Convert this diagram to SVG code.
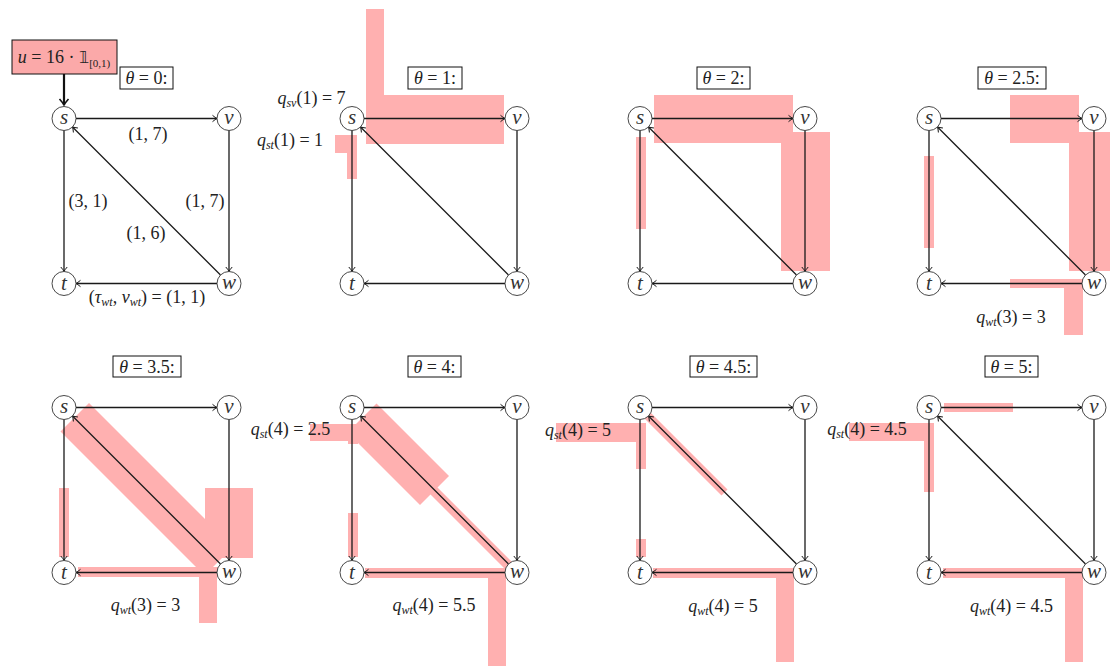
<svg xmlns="http://www.w3.org/2000/svg" width="1110" height="666" viewBox="0 0 1110 666" font-family="'Liberation Serif', 'DejaVu Serif', serif">
<defs>
<style>
.hl{fill:#ffb0b0;stroke:none}
.edge{fill:none;stroke:#1a1a1a;stroke-width:1.3;marker-end:url(#arr)}
.node circle{fill:#fff;stroke:#333;stroke-width:0.9}
.node text{font-family:'Liberation Serif','DejaVu Serif',serif;font-style:italic;font-size:21px;fill:#333;text-anchor:middle}
.lbl{font-family:'Liberation Serif','DejaVu Serif',serif;font-size:18px;fill:#222;text-anchor:middle}
.it{font-style:italic}
.box{fill:#fff;stroke:#111;stroke-width:1}
</style>
<marker id="arr" viewBox="-6 -5 8 10" refX="0" refY="0" markerWidth="8" markerHeight="10" markerUnits="userSpaceOnUse" orient="auto">
<path d="M-4.5,-3.2 Q-1.6,-0.7 0,0 Q-1.6,0.7 -4.5,3.2" fill="none" stroke="#1a1a1a" stroke-width="1"/>
</marker>
<marker id="arrBig" viewBox="-8 -6 10 12" refX="0" refY="0" markerWidth="10" markerHeight="12" markerUnits="userSpaceOnUse" orient="auto">
<path d="M-6,-4.5 Q-2,-1 0,0 Q-2,1 -6,4.5" fill="none" stroke="#111" stroke-width="1.6"/>
</marker>
</defs>
<rect width="1110" height="666" fill="#fff"/>

<!-- highlights -->
<g id="highlights">
<polygon class="hl" points="366,9 384,9 384,95 504,95 504,144 366,144"/>
<polygon class="hl" points="335,135 357,135 357,179 347,179 347,153 335,153"/>
<rect class="hl" x="654" y="95" width="139" height="48"/>
<rect class="hl" x="781" y="132" width="49" height="139"/>
<rect class="hl" x="636" y="137" width="10" height="92"/>
<rect class="hl" x="1010" y="95" width="69" height="48"/>
<rect class="hl" x="1069" y="132" width="41" height="139"/>
<rect class="hl" x="924" y="156" width="10" height="92"/>
<polygon class="hl" points="1010,279 1083,279 1083,335 1064,335 1064,288 1010,288"/>
<polygon class="hl" points="89,403 233,547 204.5,575.5 60.5,431.5"/>
<rect class="hl" x="205" y="488" width="48" height="70"/>
<rect class="hl" x="59" y="488" width="10" height="69"/>
<rect class="hl" x="78" y="567" width="140" height="10"/>
<rect class="hl" x="199" y="567" width="18" height="56"/>
<rect class="hl" x="310" y="424" width="48" height="17"/>
<rect class="hl" x="348" y="424" width="10" height="20"/>
<polygon class="hl" points="376.5,403.5 449,476 420,505 347.5,432.5"/>
<polygon class="hl" points="425,475 520,570 513,577 418,482"/>
<rect class="hl" x="348" y="513" width="10" height="44"/>
<rect class="hl" x="365" y="568" width="142" height="10"/>
<rect class="hl" x="488" y="568" width="18" height="98"/>
<rect class="hl" x="556" y="423" width="90" height="19"/>
<rect class="hl" x="636" y="423" width="10" height="46"/>
<polygon class="hl" points="649,411 727.5,489.5 721.5,495.5 643,417"/>
<rect class="hl" x="636" y="539" width="10" height="18"/>
<rect class="hl" x="653" y="568" width="140" height="10"/>
<rect class="hl" x="776" y="568" width="18" height="94"/>
<rect class="hl" x="944" y="403" width="69" height="9"/>
<rect class="hl" x="849" y="423" width="85" height="18"/>
<rect class="hl" x="924" y="423" width="10" height="69"/>
<rect class="hl" x="943" y="568" width="139" height="10"/>
<rect class="hl" x="1065" y="568" width="18" height="94"/>
</g>

<!-- input box -->
<g id="input">
<rect x="12" y="40" width="105" height="34" fill="#fba9a9" stroke="#111" stroke-width="1"/>
<text class="lbl" x="64" y="63" font-size="18"><tspan class="it">u</tspan> = 16 · <tspan font-family="'DejaVu Sans', sans-serif" font-size="16">𝟙</tspan><tspan font-size="11" dy="4">[0,1)</tspan></text>
</g>

<!-- connectors -->
<g id="connectors">
<path d="M64,74 V105" fill="none" stroke="#111" stroke-width="2.2" marker-end="url(#arrBig)"/>
<g transform="translate(64,118.5)"><path class="edge" d="M12,0 H153"/><path class="edge" d="M165,12 V153"/><path class="edge" d="M0,12 V153"/><path class="edge" d="M153,165 H12"/><path class="edge" d="M156.5,156.5 L8.5,8.5"/></g>
<g transform="translate(352,118.5)"><path class="edge" d="M12,0 H153"/><path class="edge" d="M165,12 V153"/><path class="edge" d="M0,12 V153"/><path class="edge" d="M153,165 H12"/><path class="edge" d="M156.5,156.5 L8.5,8.5"/></g>
<g transform="translate(640,118.5)"><path class="edge" d="M12,0 H153"/><path class="edge" d="M165,12 V153"/><path class="edge" d="M0,12 V153"/><path class="edge" d="M153,165 H12"/><path class="edge" d="M156.5,156.5 L8.5,8.5"/></g>
<g transform="translate(929,118.5)"><path class="edge" d="M12,0 H153"/><path class="edge" d="M165,12 V153"/><path class="edge" d="M0,12 V153"/><path class="edge" d="M153,165 H12"/><path class="edge" d="M156.5,156.5 L8.5,8.5"/></g>
<g transform="translate(64,407.5)"><path class="edge" d="M12,0 H153"/><path class="edge" d="M165,12 V153"/><path class="edge" d="M0,12 V153"/><path class="edge" d="M153,165 H12"/><path class="edge" d="M156.5,156.5 L8.5,8.5"/></g>
<g transform="translate(352,407.5)"><path class="edge" d="M12,0 H153"/><path class="edge" d="M165,12 V153"/><path class="edge" d="M0,12 V153"/><path class="edge" d="M153,165 H12"/><path class="edge" d="M156.5,156.5 L8.5,8.5"/></g>
<g transform="translate(640,407.5)"><path class="edge" d="M12,0 H153"/><path class="edge" d="M165,12 V153"/><path class="edge" d="M0,12 V153"/><path class="edge" d="M153,165 H12"/><path class="edge" d="M156.5,156.5 L8.5,8.5"/></g>
<g transform="translate(929,407.5)"><path class="edge" d="M12,0 H153"/><path class="edge" d="M165,12 V153"/><path class="edge" d="M0,12 V153"/><path class="edge" d="M153,165 H12"/><path class="edge" d="M156.5,156.5 L8.5,8.5"/></g>
</g>

<!-- nodes -->
<g id="panel1" transform="translate(64,118.5)">
<g id="p1-s" class="node"><circle cx="0" cy="0" r="12"/><text x="0" y="5">s</text></g>
<g id="p1-v" class="node"><circle cx="165" cy="0" r="12"/><text x="165" y="5">v</text></g>
<g id="p1-t" class="node"><circle cx="0" cy="165" r="12"/><text x="0" y="171">t</text></g>
<g id="p1-w" class="node"><circle cx="165" cy="165" r="12"/><text x="165" y="170">w</text></g>
</g>
<g id="panel2" transform="translate(352,118.5)">
<g id="p2-s" class="node"><circle cx="0" cy="0" r="12"/><text x="0" y="5">s</text></g>
<g id="p2-v" class="node"><circle cx="165" cy="0" r="12"/><text x="165" y="5">v</text></g>
<g id="p2-t" class="node"><circle cx="0" cy="165" r="12"/><text x="0" y="171">t</text></g>
<g id="p2-w" class="node"><circle cx="165" cy="165" r="12"/><text x="165" y="170">w</text></g>
</g>
<g id="panel3" transform="translate(640,118.5)">
<g id="p3-s" class="node"><circle cx="0" cy="0" r="12"/><text x="0" y="5">s</text></g>
<g id="p3-v" class="node"><circle cx="165" cy="0" r="12"/><text x="165" y="5">v</text></g>
<g id="p3-t" class="node"><circle cx="0" cy="165" r="12"/><text x="0" y="171">t</text></g>
<g id="p3-w" class="node"><circle cx="165" cy="165" r="12"/><text x="165" y="170">w</text></g>
</g>
<g id="panel4" transform="translate(929,118.5)">
<g id="p4-s" class="node"><circle cx="0" cy="0" r="12"/><text x="0" y="5">s</text></g>
<g id="p4-v" class="node"><circle cx="165" cy="0" r="12"/><text x="165" y="5">v</text></g>
<g id="p4-t" class="node"><circle cx="0" cy="165" r="12"/><text x="0" y="171">t</text></g>
<g id="p4-w" class="node"><circle cx="165" cy="165" r="12"/><text x="165" y="170">w</text></g>
</g>
<g id="panel5" transform="translate(64,407.5)">
<g id="p5-s" class="node"><circle cx="0" cy="0" r="12"/><text x="0" y="5">s</text></g>
<g id="p5-v" class="node"><circle cx="165" cy="0" r="12"/><text x="165" y="5">v</text></g>
<g id="p5-t" class="node"><circle cx="0" cy="165" r="12"/><text x="0" y="171">t</text></g>
<g id="p5-w" class="node"><circle cx="165" cy="165" r="12"/><text x="165" y="170">w</text></g>
</g>
<g id="panel6" transform="translate(352,407.5)">
<g id="p6-s" class="node"><circle cx="0" cy="0" r="12"/><text x="0" y="5">s</text></g>
<g id="p6-v" class="node"><circle cx="165" cy="0" r="12"/><text x="165" y="5">v</text></g>
<g id="p6-t" class="node"><circle cx="0" cy="165" r="12"/><text x="0" y="171">t</text></g>
<g id="p6-w" class="node"><circle cx="165" cy="165" r="12"/><text x="165" y="170">w</text></g>
</g>
<g id="panel7" transform="translate(640,407.5)">
<g id="p7-s" class="node"><circle cx="0" cy="0" r="12"/><text x="0" y="5">s</text></g>
<g id="p7-v" class="node"><circle cx="165" cy="0" r="12"/><text x="165" y="5">v</text></g>
<g id="p7-t" class="node"><circle cx="0" cy="165" r="12"/><text x="0" y="171">t</text></g>
<g id="p7-w" class="node"><circle cx="165" cy="165" r="12"/><text x="165" y="170">w</text></g>
</g>
<g id="panel8" transform="translate(929,407.5)">
<g id="p8-s" class="node"><circle cx="0" cy="0" r="12"/><text x="0" y="5">s</text></g>
<g id="p8-v" class="node"><circle cx="165" cy="0" r="12"/><text x="165" y="5">v</text></g>
<g id="p8-t" class="node"><circle cx="0" cy="165" r="12"/><text x="0" y="171">t</text></g>
<g id="p8-w" class="node"><circle cx="165" cy="165" r="12"/><text x="165" y="170">w</text></g>
</g>

<!-- theta boxes -->
<g id="thetas">
<rect class="box" x="120" y="67" width="53" height="22"/><text class="lbl" x="146.5" y="84"><tspan class="it">θ</tspan> = 0:</text>
<rect class="box" x="408" y="67" width="54" height="22"/><text class="lbl" x="435" y="84"><tspan class="it">θ</tspan> = 1:</text>
<rect class="box" x="697" y="67" width="53" height="22"/><text class="lbl" x="723.5" y="84"><tspan class="it">θ</tspan> = 2:</text>
<rect class="box" x="978" y="67" width="68" height="22"/><text class="lbl" x="1012" y="84"><tspan class="it">θ</tspan> = 2.5:</text>
<rect class="box" x="113" y="356" width="68" height="21"/><text class="lbl" x="147" y="373"><tspan class="it">θ</tspan> = 3.5:</text>
<rect class="box" x="408" y="356" width="53" height="21"/><text class="lbl" x="434.5" y="373"><tspan class="it">θ</tspan> = 4:</text>
<rect class="box" x="690" y="356" width="67" height="21"/><text class="lbl" x="723.5" y="373"><tspan class="it">θ</tspan> = 4.5:</text>
<rect class="box" x="985" y="356" width="53" height="21"/><text class="lbl" x="1011.5" y="373"><tspan class="it">θ</tspan> = 5:</text>
</g>

<!-- labels -->
<g id="labels">
<text class="lbl" x="148" y="140">(1, 7)</text>
<text class="lbl" x="88" y="207">(3, 1)</text>
<text class="lbl" x="205" y="207">(1, 7)</text>
<text class="lbl" x="146" y="239">(1, 6)</text>
<text class="lbl" x="147" y="303">(<tspan class="it">τ</tspan><tspan class="it" font-size="12" dy="3">wt</tspan><tspan dy="-3">, </tspan><tspan class="it">ν</tspan><tspan class="it" font-size="12" dy="3">wt</tspan><tspan dy="-3">) = (1, 1)</tspan></text>
<text class="lbl" x="311.5" y="104"><tspan class="it">q</tspan><tspan class="it" font-size="12" dy="3">sv</tspan><tspan dy="-3">(1) = 7</tspan></text>
<text class="lbl" x="290" y="146"><tspan class="it">q</tspan><tspan class="it" font-size="12" dy="3">st</tspan><tspan dy="-3">(1) = 1</tspan></text>
<text class="lbl" x="1011" y="323"><tspan class="it">q</tspan><tspan class="it" font-size="12" dy="3">wt</tspan><tspan dy="-3">(3) = 3</tspan></text>
<text class="lbl" x="145.5" y="611"><tspan class="it">q</tspan><tspan class="it" font-size="12" dy="3">wt</tspan><tspan dy="-3">(3) = 3</tspan></text>
<text class="lbl" x="290.5" y="435"><tspan class="it">q</tspan><tspan class="it" font-size="12" dy="3">st</tspan><tspan dy="-3">(4) = 2.5</tspan></text>
<text class="lbl" x="434" y="611"><tspan class="it">q</tspan><tspan class="it" font-size="12" dy="3">wt</tspan><tspan dy="-3">(4) = 5.5</tspan></text>
<text class="lbl" x="578" y="436"><tspan class="it">q</tspan><tspan class="it" font-size="12" dy="3">st</tspan><tspan dy="-3">(4) = 5</tspan></text>
<text class="lbl" x="723" y="612"><tspan class="it">q</tspan><tspan class="it" font-size="12" dy="3">wt</tspan><tspan dy="-3">(4) = 5</tspan></text>
<text class="lbl" x="867" y="435"><tspan class="it">q</tspan><tspan class="it" font-size="12" dy="3">st</tspan><tspan dy="-3">(4) = 4.5</tspan></text>
<text class="lbl" x="1011.5" y="612"><tspan class="it">q</tspan><tspan class="it" font-size="12" dy="3">wt</tspan><tspan dy="-3">(4) = 4.5</tspan></text>
</g>
</svg>
